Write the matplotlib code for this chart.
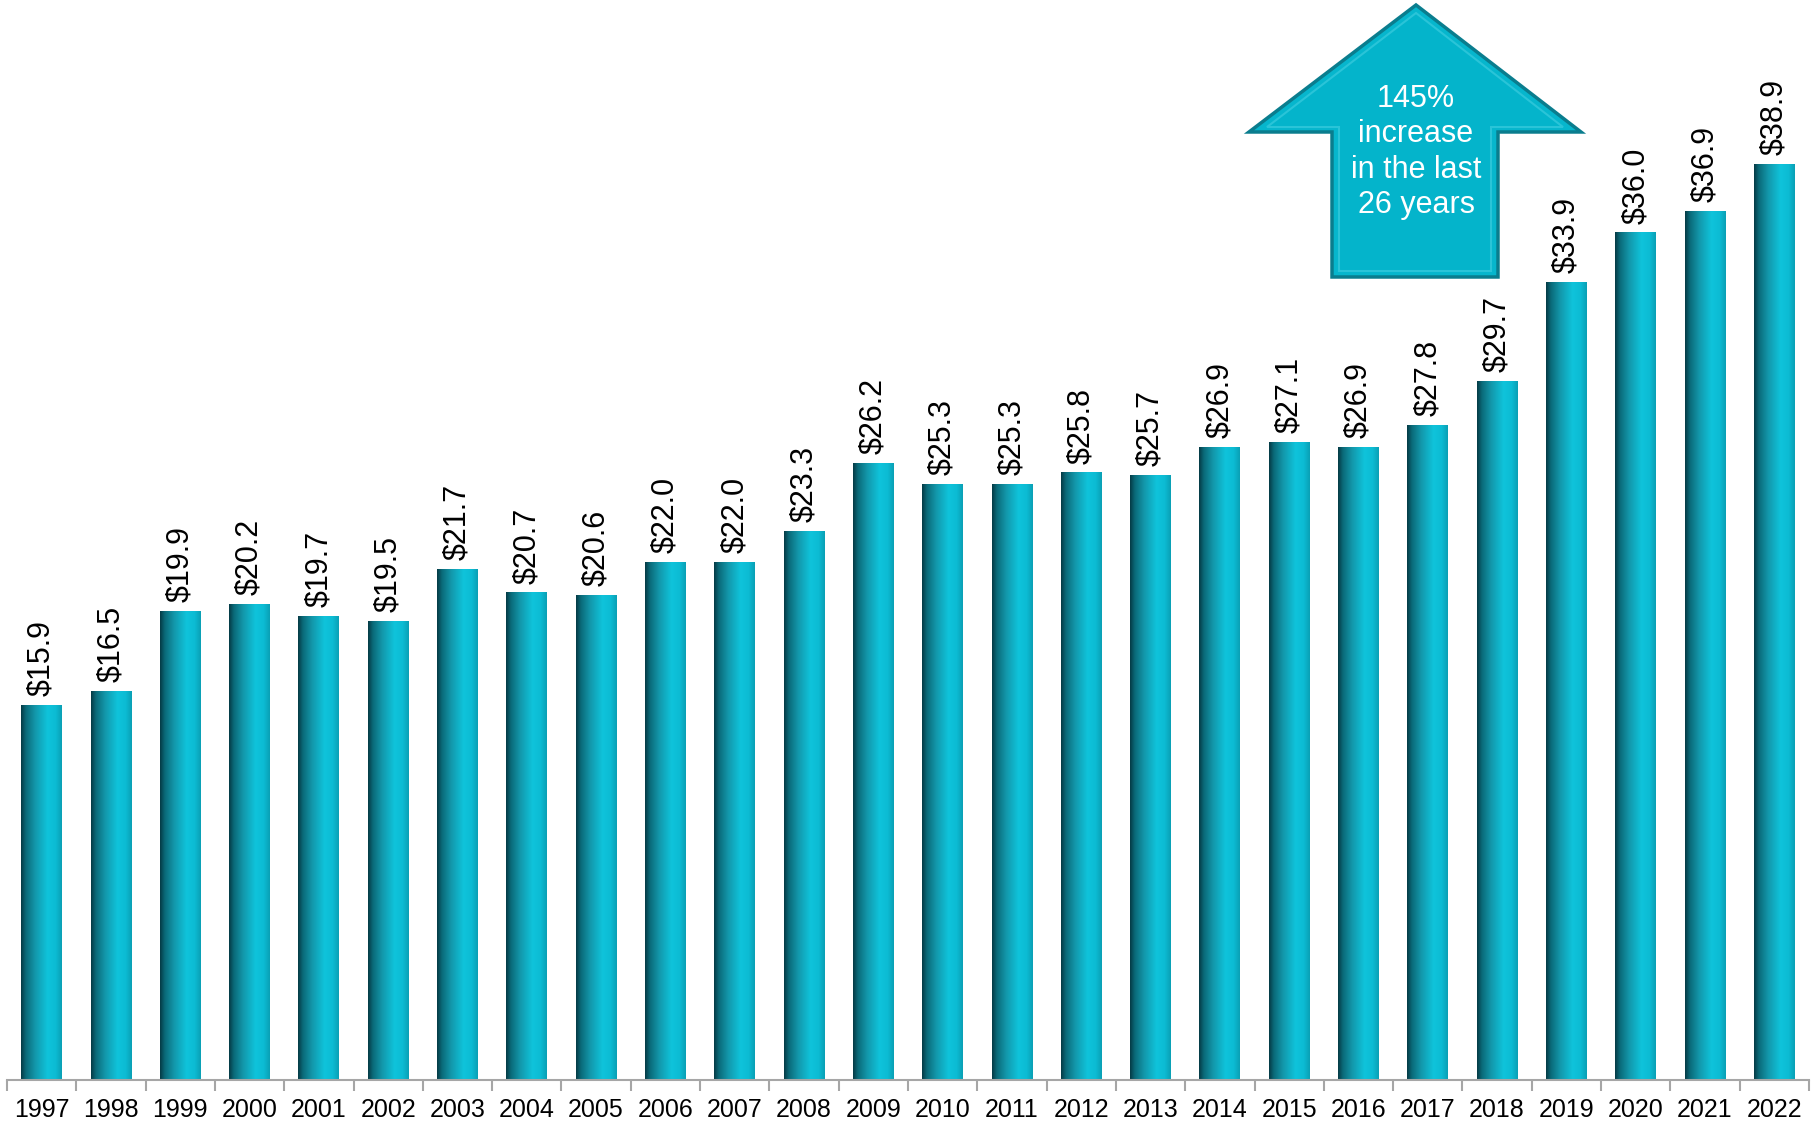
import numpy as np
import matplotlib
matplotlib.use("Agg")
import matplotlib.pyplot as plt
from matplotlib.colors import LinearSegmentedColormap
from matplotlib.patches import Polygon

plt.rcParams['font.family'] = ['Liberation Sans', 'DejaVu Sans']

years = [str(y) for y in range(1997, 2023)]
values = [15.9, 16.5, 19.9, 20.2, 19.7, 19.5, 21.7, 20.7, 20.6, 22.0, 22.0, 23.3,
          26.2, 25.3, 25.3, 25.8, 25.7, 26.9, 27.1, 26.9, 27.8, 29.7, 33.9, 36.0,
          36.9, 38.9]
arrow_text = "145%\nincrease\nin the last\n26 years"

W, H = 1820, 1124
fig = plt.figure(figsize=(W / 100, H / 100), dpi=100)
ax = fig.add_axes([7 / W, (H - 1080) / H, (1809 - 7) / W, 1080 / H])

# cylinder-like horizontal shading for the bars
bar_cmap = LinearSegmentedColormap.from_list("cyl", [
    (0.0, "#053a44"), (0.12, "#0a6a79"), (0.35, "#1398ab"),
    (0.65, "#0fc3db"), (0.85, "#0cbbd3"), (1.0, "#0a9fb4")])
grad = np.linspace(0, 1, 256).reshape(1, -1)

x = np.arange(len(years))
bw = 0.59
for xi, v in zip(x, values):
    ax.imshow(grad, cmap=bar_cmap, aspect='auto', interpolation='bilinear',
              extent=[xi - bw / 2, xi + bw / 2, 0, v], zorder=2)
    ax.text(xi, v + 0.4, f"${v:.1f}", rotation=90, ha='center', va='bottom',
            fontsize=22, color='black')

ax.set_xlim(-0.5, len(years) - 0.5)
ax.set_ylim(0, 45.9)

for s in ['top', 'right', 'left']:
    ax.spines[s].set_visible(False)
ax.spines['bottom'].set_color('#a6a6a6')
ax.spines['bottom'].set_linewidth(1.5)
ax.set_yticks([])
ax.set_xticks(x)
ax.set_xticklabels(years, fontsize=18)
ax.set_xticks(np.arange(-0.5, len(years)), minor=True)
ax.tick_params(axis='x', which='major', length=0, pad=13)
ax.tick_params(axis='x', which='minor', length=8, width=1.5, color='#a6a6a6')

# big up arrow annotation (figure pixel coordinates)
pts = [(1416, 5), (1581, 132), (1498, 132), (1498, 277), (1332, 277),
       (1332, 132), (1249, 132)]
fpts = [(px / W, 1 - py / H) for px, py in pts]
fig.patches.append(Polygon(fpts, closed=True, transform=fig.transFigure,
                           facecolor='#06b6cd', edgecolor='#0a7d8e',
                           linewidth=2.5, zorder=5))
inner = [(1416, 13), (1563, 127), (1491, 127), (1491, 271), (1339, 271),
         (1339, 127), (1267, 127)]
fig.patches.append(Polygon([(px / W, 1 - py / H) for px, py in inner], closed=True,
                           transform=fig.transFigure, facecolor='#04b4cb',
                           edgecolor='#2ac4d8', linewidth=1.5, zorder=6))
fig.text(1416 / W, 1 - 152 / H, arrow_text, ha='center', va='center',
         fontsize=22, color='white', linespacing=1.24, zorder=7)

fig.savefig("out.png", dpi=100)
